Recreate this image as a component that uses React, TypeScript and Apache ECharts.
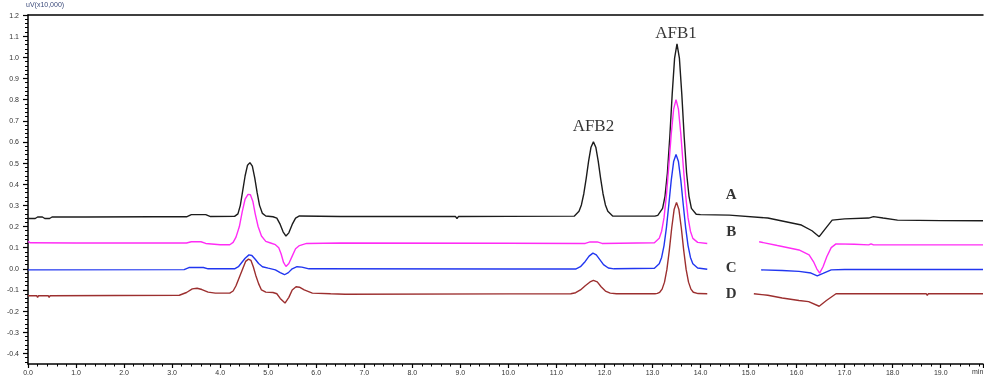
import React, { useEffect, useRef } from "react";
import * as echarts from "echarts";

type Pt = [number, number];

// Retention time (min) vs signal (uV x10,000)
const traceA: Pt[] = [
  [0, 0.238], [0.15, 0.238], [0.2, 0.245], [0.3, 0.245], [0.35, 0.238], [0.45, 0.238], [0.5, 0.245],
  [1.2, 0.245], [2.6, 0.246], [3.3, 0.246], [3.4, 0.256], [3.7, 0.256], [3.8, 0.247], [4.3, 0.248],
  [4.37, 0.26], [4.42, 0.3], [4.47, 0.37], [4.52, 0.44], [4.57, 0.49], [4.62, 0.502], [4.67, 0.485],
  [4.72, 0.43], [4.77, 0.36], [4.82, 0.3], [4.88, 0.262], [4.95, 0.25], [5.1, 0.246], [5.18, 0.24],
  [5.25, 0.21], [5.31, 0.175], [5.37, 0.155], [5.43, 0.17], [5.5, 0.21], [5.57, 0.24], [5.65, 0.25],
  [6.5, 0.247], [8.9, 0.247], [8.93, 0.238], [8.96, 0.247], [11.37, 0.249], [11.47, 0.272],
  [11.52, 0.302], [11.57, 0.355], [11.62, 0.428], [11.67, 0.509], [11.72, 0.575], [11.77, 0.6],
  [11.82, 0.575], [11.87, 0.509], [11.92, 0.428], [11.97, 0.355], [12.02, 0.302], [12.07, 0.272],
  [12.17, 0.25], [13.05, 0.249], [13.11, 0.253], [13.21, 0.286], [13.26, 0.343], [13.31, 0.453],
  [13.36, 0.623], [13.41, 0.826], [13.46, 0.996], [13.51, 1.064], [13.56, 0.996], [13.61, 0.826],
  [13.66, 0.623], [13.71, 0.453], [13.76, 0.343], [13.81, 0.286], [13.91, 0.258], [14.0, 0.256],
  [14.6, 0.254], [15.4, 0.24], [16.1, 0.207], [16.32, 0.18], [16.47, 0.152], [16.6, 0.19],
  [16.74, 0.23], [17.0, 0.236], [17.5, 0.24], [17.6, 0.247], [17.8, 0.24], [18.1, 0.23],
  [19.0, 0.228], [19.88, 0.227],
];

const traceBPre: Pt[] = [
  [0, 0.13], [0.05, 0.123], [1, 0.122], [3.3, 0.122], [3.4, 0.128], [3.6, 0.128], [3.7, 0.12],
  [4.0, 0.114], [4.2, 0.114], [4.27, 0.125], [4.33, 0.15], [4.4, 0.2], [4.46, 0.27], [4.52, 0.33],
  [4.58, 0.352], [4.63, 0.35], [4.68, 0.32], [4.73, 0.26], [4.79, 0.2], [4.86, 0.155], [4.95, 0.13],
  [5.05, 0.122], [5.15, 0.114], [5.22, 0.1], [5.27, 0.07], [5.32, 0.03], [5.37, 0.011], [5.43, 0.025],
  [5.5, 0.06], [5.57, 0.095], [5.65, 0.11], [5.8, 0.12], [6.5, 0.122], [11.6, 0.12], [11.7, 0.127],
  [11.85, 0.127], [11.95, 0.12], [13.04, 0.123], [13.14, 0.144], [13.19, 0.178], [13.24, 0.242],
  [13.29, 0.347], [13.34, 0.487], [13.39, 0.637], [13.44, 0.755], [13.49, 0.8], [13.54, 0.755],
  [13.59, 0.637], [13.64, 0.487], [13.69, 0.347], [13.74, 0.242], [13.79, 0.178], [13.84, 0.144],
  [13.94, 0.125], [14.14, 0.12],
];
const traceBPost: Pt[] = [
  [15.22, 0.128], [15.6, 0.11], [16.05, 0.089], [16.26, 0.066], [16.36, 0.03], [16.42, 0.0],
  [16.48, -0.02], [16.55, 0.01], [16.63, 0.058], [16.72, 0.1], [16.82, 0.118], [17.2, 0.116],
  [17.5, 0.113], [17.55, 0.118], [17.6, 0.113], [19.88, 0.113],
];

const traceCPre: Pt[] = [
  [0, -0.005], [3.25, -0.004], [3.35, 0.006], [3.65, 0.006], [3.75, 0.0], [4.3, 0.0], [4.38, 0.01],
  [4.45, 0.03], [4.52, 0.05], [4.6, 0.066], [4.66, 0.063], [4.73, 0.045], [4.8, 0.025], [4.88, 0.01],
  [5.0, 0.003], [5.15, -0.005], [5.25, -0.018], [5.34, -0.028], [5.42, -0.018], [5.5, 0.0],
  [5.6, 0.01], [5.7, 0.008], [5.85, 0.0], [11.4, -0.001], [11.5, 0.01], [11.6, 0.035], [11.68, 0.06],
  [11.76, 0.074], [11.83, 0.066], [11.9, 0.045], [11.98, 0.02], [12.08, 0.004], [12.2, 0.0],
  [13.04, 0.003], [13.14, 0.024], [13.19, 0.054], [13.24, 0.11], [13.29, 0.195], [13.34, 0.304],
  [13.39, 0.418], [13.44, 0.507], [13.49, 0.54], [13.54, 0.507], [13.59, 0.418], [13.64, 0.304],
  [13.69, 0.195], [13.74, 0.11], [13.79, 0.054], [13.84, 0.024], [13.94, 0.004], [14.14, -0.002],
];
const traceCPost: Pt[] = [
  [15.26, -0.005], [15.7, -0.008], [16.05, -0.012], [16.3, -0.02], [16.43, -0.033], [16.55, -0.022],
  [16.72, -0.005], [17.0, -0.003], [19.88, -0.003],
];

const traceDPre: Pt[] = [
  [0, -0.127], [0.18, -0.127], [0.2, -0.135], [0.22, -0.127], [0.42, -0.127], [0.44, -0.135],
  [0.46, -0.127], [3.15, -0.125], [3.3, -0.112], [3.42, -0.095], [3.52, -0.092], [3.62, -0.098],
  [3.75, -0.11], [3.9, -0.115], [4.2, -0.115], [4.27, -0.105], [4.33, -0.08], [4.4, -0.04],
  [4.47, 0.0], [4.53, 0.035], [4.59, 0.046], [4.64, 0.04], [4.69, 0.01], [4.74, -0.03], [4.8, -0.07],
  [4.86, -0.1], [4.95, -0.11], [5.1, -0.112], [5.18, -0.118], [5.25, -0.14], [5.35, -0.162],
  [5.43, -0.135], [5.5, -0.1], [5.58, -0.085], [5.65, -0.087], [5.75, -0.1], [5.92, -0.115],
  [6.3, -0.118], [6.6, -0.12], [11.3, -0.118], [11.4, -0.113], [11.5, -0.1], [11.6, -0.08],
  [11.7, -0.062], [11.77, -0.055], [11.85, -0.062], [11.93, -0.085], [12.02, -0.105], [12.12, -0.115],
  [12.25, -0.118], [13.05, -0.118], [13.1, -0.116], [13.15, -0.111], [13.2, -0.096], [13.25, -0.063],
  [13.3, -0.003], [13.35, 0.087], [13.4, 0.193], [13.45, 0.28], [13.5, 0.314], [13.55, 0.28],
  [13.6, 0.193], [13.65, 0.087], [13.7, -0.003], [13.75, -0.063], [13.8, -0.096], [13.85, -0.111],
  [13.95, -0.117], [14.14, -0.118],
];
const traceDPost: Pt[] = [
  [15.11, -0.118], [15.4, -0.125], [15.7, -0.138], [16.05, -0.15], [16.25, -0.155], [16.47, -0.177],
  [16.62, -0.15], [16.82, -0.118], [18.7, -0.118], [18.72, -0.125], [18.74, -0.118], [19.88, -0.118],
];

const yLabelTicks = [-0.4, -0.3, -0.2, -0.1, 0.0, 0.1, 0.2, 0.3, 0.4, 0.5, 0.6, 0.7, 0.8, 0.9, 1.0, 1.1, 1.2];

const annotations = [
  { text: "AFB2", t: 11.77, v: 0.678, size: 17, bold: false },
  { text: "AFB1", t: 13.49, v: 1.118, size: 17, bold: false },
  { text: "A", t: 14.64, v: 0.353, size: 15, bold: true },
  { text: "B", t: 14.64, v: 0.179, size: 15, bold: true },
  { text: "C", t: 14.64, v: 0.009, size: 15, bold: true },
  { text: "D", t: 14.64, v: -0.113, size: 15, bold: true },
];

const X_MAX = 19.88;
const Y_MIN = -0.45;
const Y_MAX = 1.2;

const COLORS = { A: "#1c1c1c", B: "#ff2cf5", C: "#2136f0", D: "#9c2f2f" };

export default function App() {
  const ref = useRef<HTMLDivElement>(null);
  useEffect(() => {
    if (!ref.current) return;
    const chart = echarts.init(ref.current, undefined, { renderer: "svg" });
    const yMinor: number[] = [];
    for (let i = -22; i <= 60; i++) yMinor.push(Math.round(i * 2) / 100);

    const lineSeries = (data: Pt[], color: string) => ({
      type: "line",
      data,
      showSymbol: false,
      symbol: "none",
      lineStyle: { color, width: 1.4 },
      itemStyle: { color },
      xAxisIndex: 0,
      yAxisIndex: 0,
      silent: true,
    });

    const labelFont = { fontFamily: "Liberation Sans, Arial", fontSize: 7, color: "#333" };

    chart.setOption({
      animation: false,
      grid: { left: 28, right: 1, top: 15, bottom: 13 },
      xAxis: [
        {
          type: "value",
          min: 0,
          max: X_MAX,
          interval: 1,
          axisLine: { onZero: false, lineStyle: { color: "#000", width: 1.5 } },
          axisTick: { length: 4, lineStyle: { color: "#000", width: 1.2 } },
          minorTick: { show: true, splitNumber: 5, length: 2.5, lineStyle: { color: "#000", width: 1 } },
          splitLine: { show: false },
          axisLabel: { ...labelFont, margin: 5, showMaxLabel: false, formatter: (v: number) => v.toFixed(1) },
        },
        {
          type: "value",
          position: "top",
          min: 0,
          max: X_MAX,
          axisLine: { show: true, onZero: false, lineStyle: { color: "#000", width: 1.5 } },
          axisTick: { show: false },
          axisLabel: { show: false },
          splitLine: { show: false },
        },
      ],
      yAxis: [
        {
          type: "value",
          min: Y_MIN,
          max: Y_MAX,
          axisLine: { show: true, onZero: false, lineStyle: { color: "#000", width: 1.5 } },
          axisTick: { show: true, customValues: yLabelTicks, length: 5, lineStyle: { color: "#000", width: 1.2 } },
          axisLabel: { ...labelFont, margin: 9, customValues: yLabelTicks, formatter: (v: number) => v.toFixed(1) },
          splitLine: { show: false },
        },
        {
          type: "value",
          position: "left",
          min: Y_MIN,
          max: Y_MAX,
          axisLine: { show: false, onZero: false },
          axisTick: { show: true, customValues: yMinor, length: 3, lineStyle: { color: "#000", width: 1 } },
          axisLabel: { show: false },
          splitLine: { show: false },
        },
      ],
      series: [
        lineSeries(traceA, COLORS.A),
        lineSeries(traceBPre, COLORS.B),
        lineSeries(traceBPost, COLORS.B),
        lineSeries(traceCPre, COLORS.C),
        lineSeries(traceCPost, COLORS.C),
        lineSeries(traceDPre, COLORS.D),
        lineSeries(traceDPost, COLORS.D),
        {
          type: "scatter",
          symbolSize: 0,
          silent: true,
          data: annotations.map((a) => ({
            value: [a.t, a.v],
            name: a.text,
            label: {
              show: true,
              position: "inside",
              formatter: a.text,
              fontFamily: "Liberation Serif, Times New Roman, serif",
              fontSize: a.size,
              fontWeight: a.bold ? "bold" : "normal",
              color: "#000",
            },
          })),
        },
      ],
      graphic: [
        {
          type: "text",
          left: 26,
          top: 1,
          style: { text: "uV(x10,000)", fontFamily: "Liberation Sans, Arial", fontSize: 7, fill: "#3b4a7a" },
        },
        {
          type: "text",
          left: 972,
          top: 368,
          style: { text: "min", fontFamily: "Liberation Sans, Arial", fontSize: 7, fill: "#333" },
        },
      ],
    });
    return () => chart.dispose();
  }, []);
  return <div ref={ref} style={{ position: "fixed", left: 0, top: 0, width: 984, height: 377 }} />;
}
